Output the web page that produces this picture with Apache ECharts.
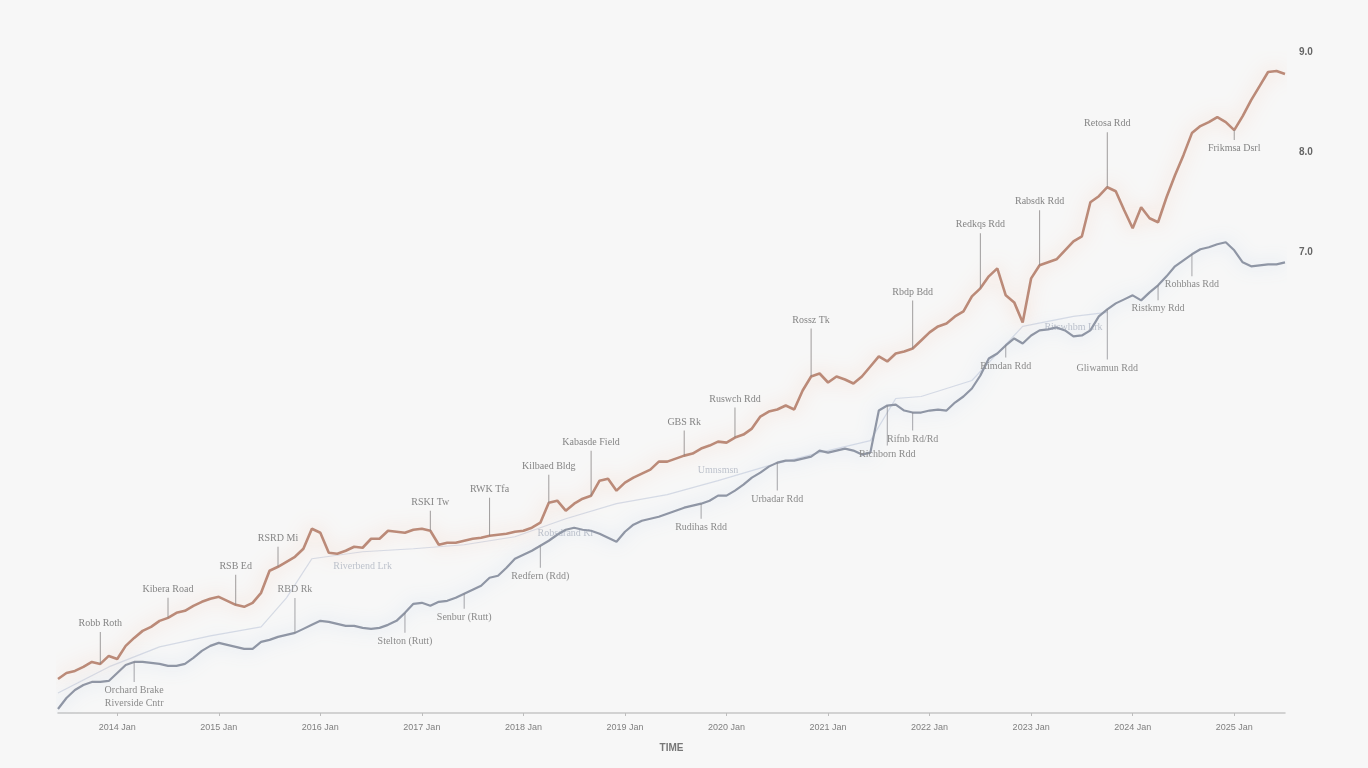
<!DOCTYPE html>
<html>
<head>
<meta charset="utf-8">
<script src="https://cdn.jsdelivr.net/npm/echarts@6/dist/echarts.min.js"></script>
<style>
html,body{margin:0;padding:0;background:#f7f7f7;}
#chart{width:1368px;height:768px;}
</style>
</head>
<body>
<div id="chart"></div>
<script>
// Monthly index: 0 = Jun 2013 ... 145 = Jul 2025
const orangeValues = [
  2.74,2.80,2.82,2.86,2.91,2.89,2.97,2.94,3.07,3.15,
  3.22,3.26,3.32,3.35,3.40,3.42,3.47,3.51,3.54,3.56,
  3.52,3.48,3.46,3.50,3.60,3.82,3.86,3.91,3.96,4.04,
  4.24,4.20,4.00,3.99,4.02,4.06,4.05,4.14,4.14,4.22,
  4.21,4.20,4.23,4.24,4.22,4.08,4.10,4.10,4.12,4.14,
  4.15,4.17,4.18,4.19,4.21,4.22,4.25,4.30,4.50,4.52,
  4.42,4.49,4.54,4.57,4.72,4.74,4.62,4.70,4.75,4.79,
  4.83,4.91,4.91,4.94,4.97,4.99,5.04,5.07,5.11,5.10,
  5.15,5.18,5.24,5.36,5.41,5.43,5.47,5.43,5.62,5.76,
  5.79,5.70,5.76,5.73,5.69,5.76,5.86,5.96,5.91,5.99,
  6.01,6.04,6.12,6.20,6.26,6.29,6.36,6.41,6.56,6.64,
  6.76,6.84,6.57,6.50,6.30,6.74,6.87,6.90,6.93,7.02,
  7.11,7.16,7.50,7.56,7.65,7.61,7.42,7.24,7.45,7.34,
  7.30,7.55,7.77,7.97,8.19,8.26,8.30,8.35,8.30,8.22,
  8.36,8.52,8.66,8.80,8.81,8.78
];
const grayValues = [
  2.44,2.55,2.63,2.68,2.71,2.71,2.72,2.80,2.88,2.91,
  2.91,2.90,2.89,2.87,2.87,2.89,2.95,3.02,3.07,3.10,
  3.08,3.06,3.04,3.04,3.11,3.13,3.16,3.18,3.20,3.24,
  3.28,3.32,3.31,3.29,3.27,3.27,3.25,3.24,3.25,3.28,
  3.32,3.40,3.49,3.50,3.47,3.51,3.52,3.55,3.59,3.63,
  3.67,3.75,3.77,3.85,3.94,3.98,4.02,4.07,4.12,4.18,
  4.23,4.25,4.23,4.22,4.19,4.15,4.11,4.21,4.28,4.32,
  4.34,4.36,4.39,4.42,4.45,4.47,4.49,4.52,4.57,4.57,
  4.62,4.68,4.75,4.80,4.86,4.90,4.92,4.92,4.94,4.96,
  5.02,5.00,5.02,5.04,5.02,4.98,5.00,5.42,5.47,5.48,
  5.42,5.40,5.40,5.42,5.43,5.42,5.50,5.56,5.64,5.77,
  5.94,5.99,6.07,6.14,6.09,6.17,6.22,6.23,6.25,6.22,
  6.16,6.17,6.22,6.36,6.43,6.49,6.53,6.57,6.52,6.60,
  6.67,6.76,6.86,6.92,6.98,7.03,7.05,7.08,7.10,7.02,
  6.90,6.86,6.87,6.88,6.88,6.90
];
const faintMonths = [0,6,12,18,24,27,30,36,42,48,54,60,66,72,78,84,90,96,99,102,108,114,120,124];
const faintValues = [2.60,2.86,3.06,3.17,3.26,3.55,3.94,4.01,4.04,4.08,4.16,4.34,4.49,4.58,4.72,4.87,5.00,5.12,5.54,5.56,5.72,6.26,6.36,6.40];

const xTickMonths = [7,19,31,43,55,67,79,91,103,115,127,139];
const xTickLabels = ['2014 Jan','2015 Jan','2016 Jan','2017 Jan','2018 Jan','2019 Jan','2020 Jan','2021 Jan','2022 Jan','2023 Jan','2024 Jan','2025 Jan'];
const yTickValues = [7, 8, 9];
const yTickLabels = ['7.0', '8.0', '9.0'];

const orangeNoteText = ['Robb Roth','Kibera Road','RSB Ed','RSRD Mi','RSKI Tw','RWK Tfa','Kilbaed Bldg','Kabasde Field','GBS Rk','Ruswch Rdd','Rossz Tk','Rbdp Bdd','Redkqs Rdd','Rabsdk Rdd','Retosa Rdd','Frikmsa Dsrl'];
const orangeNoteMonth = [5,13,21,26,44,51,58,63,74,80,89,101,109,116,124,139];
const grayNoteText = ['Orchard Brake\nRiverside Cntr','RBD Rk','Stelton (Rutt)','Senbur (Rutt)','Redfern (Rdd)','Rudihas Rdd','Urbadar Rdd','Richborn Rdd','Rifnb Rd/Rd','Rimdan Rdd','Gliwamun Rdd','Ristkmy Rdd','Rohbhas Rdd'];
const grayNoteMonth = [9,28,41,48,57,76,85,98,101,112,124,130,134];
const faintNoteText = ['Riverbend Lrk','Robsdrand Kr','Umnsmsn','Ritswhbm Lrk'];
const faintNoteMonth = [36,60,78,120];

// layout for annotation leaders (px length, negative = below the line)
const orangeLeader = [32,20,30,20,20,38,28,45,25,30,48,48,55,55,55,-10];
const grayLeader = [-20,35,-20,-15,-22,-15,-28,-40,-18,-12,-50,-15,-22];
const faintLeader = [-6,-6,2,-2];

function pairs(vals){ return vals.map((v,i)=>[i,v]); }
function notes(vals, texts, months, leaders, opts){
  return texts.map((t,k)=>{
    const m = months[k];
    const v = Array.isArray(vals) ? vals[m] : vals(m);
    const len = leaders[k];
    const below = len < 0;
    const L = Math.abs(len);
    return {
      name: t,
      coord: [m, v],
      symbol: 'rect',
      symbolSize: [opts.hideLeader ? 0.01 : 1, L],
      symbolOffset: [0, below ? L/2 : -L/2],
      itemStyle: {color: opts.leaderColor},
      label: {show: true, position: below ? 'bottom' : 'top', distance: 2,
        formatter: '{b}', color: opts.textColor, fontSize: 10, lineHeight: 13,
        fontFamily: 'Liberation Serif'}
    };
  });
}
const faintLookup = m => faintValues[faintMonths.indexOf(m)];

const chart = echarts.init(document.getElementById('chart'));
chart.setOption({
  backgroundColor: '#f7f7f7',
  animation: false,
  grid: {left: 58, right: 83, top: 52, bottom: 55},
  xAxis: {
    type: 'value', min: 0, max: 145,
    name: 'TIME', nameLocation: 'middle', nameGap: 30,
    nameTextStyle: {color: '#777', fontSize: 10, fontWeight: 'bold'},
    axisLine: {show: true, lineStyle: {color: '#c6c6c6', width: 1.5}},
    axisTick: {show: true, customValues: xTickMonths, length: 3, inside: false, lineStyle: {color: '#bdbdbd'}},
    axisLabel: {customValues: xTickMonths, margin: 10, color: '#808080', fontSize: 9,
      formatter: v => xTickLabels[xTickMonths.indexOf(v)]},
    splitLine: {show: false}
  },
  yAxis: {
    type: 'value', min: 2.4, max: 9, position: 'right',
    axisLine: {show: false}, axisTick: {show: false}, splitLine: {show: false},
    axisLabel: {customValues: yTickValues, margin: 14, color: '#666', fontSize: 10, fontWeight: 'bold',
      formatter: v => yTickLabels[yTickValues.indexOf(v)]}
  },
  series: [
    {
      name: 'Faint', type: 'line', data: faintMonths.map((m,k)=>[m, faintValues[k]]),
      showSymbol: false, z: 1,
      lineStyle: {color: 'rgba(185,195,215,0.55)', width: 1.2},
      markPoint: {data: notes(faintLookup, faintNoteText, faintNoteMonth, faintLeader,
        {leaderColor: 'rgba(0,0,0,0)', textColor: 'rgba(150,158,175,0.6)', hideLeader: true}), silent: true}
    },
    {
      name: 'Gray', type: 'line', data: pairs(grayValues), showSymbol: false, z: 3,
      lineStyle: {color: '#8f96a5', width: 2.2, shadowColor: 'rgba(180,205,235,0.7)', shadowBlur: 16},
      markPoint: {data: notes(grayValues, grayNoteText, grayNoteMonth, grayLeader,
        {leaderColor: 'rgba(130,130,135,0.7)', textColor: '#8b8b8b'}), silent: true}
    },
    {
      name: 'Orange', type: 'line', data: pairs(orangeValues), showSymbol: false, z: 4,
      lineStyle: {color: '#bb8a78', width: 2.6, shadowColor: 'rgba(248,195,165,0.75)', shadowBlur: 18},
      markPoint: {data: notes(orangeValues, orangeNoteText, orangeNoteMonth, orangeLeader,
        {leaderColor: 'rgba(130,125,125,0.75)', textColor: '#858585'}), silent: true}
    }
  ]
});
</script>
</body>
</html>
